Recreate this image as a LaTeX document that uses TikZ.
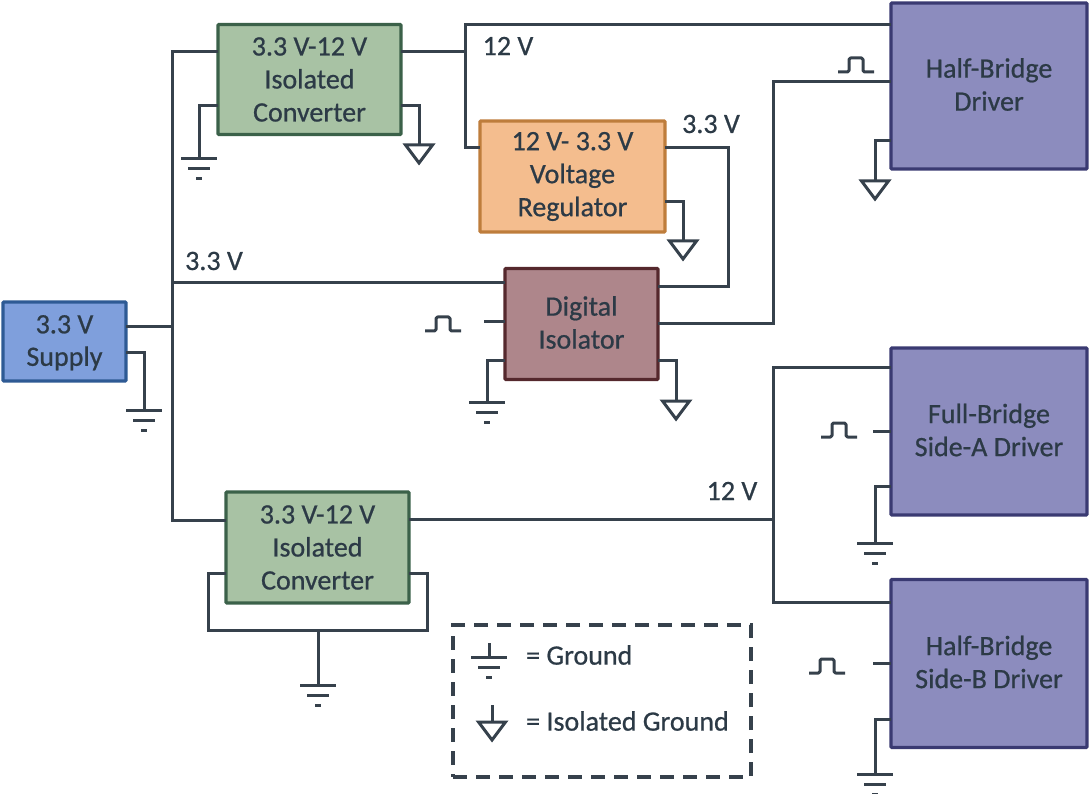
\documentclass[tikz,border=0pt]{standalone}
\usepackage{fontspec}
\setmainfont{Carlito}[RawFeature={embolden=0.7}]
\definecolor{wire}{HTML}{36414C}
\definecolor{txt}{HTML}{2C3A46}
\definecolor{convF}{HTML}{A8C2A4}\definecolor{convD}{HTML}{3B6149}
\definecolor{regF}{HTML}{F4BD8E}\definecolor{regD}{HTML}{BE7D3C}
\definecolor{isoF}{HTML}{AE868B}\definecolor{isoD}{HTML}{55282D}
\definecolor{supF}{HTML}{7F9FDC}\definecolor{supD}{HTML}{2E5A94}
\definecolor{drvF}{HTML}{8C8CBE}\definecolor{drvD}{HTML}{3A3A72}
\newcommand{\upline}[1]{\raisebox{1.5pt}[\height][\depth]{#1}}
\tikzset{
  lbl/.style={text=txt,font=\fontsize{28}{33}\selectfont,inner sep=0pt,align=center},
  box/.style={lbl,draw=#1,line width=3.4pt,inner sep=0pt,outer sep=0pt,rounded corners=1pt},
  wireline/.style={draw=wire,line width=3pt,line join=miter},
  gndsym/.pic={
    \draw[wire,line width=3pt] (-18,0)--(18,0) (-11,10)--(11,10) (-3,20)--(3,20);
  },
  isosym/.pic={
    \draw[wire,line width=3pt,line join=miter] (-13.5,0)--(13.5,0)--(0,18)--cycle;
  },
  pulsesym/.pic={
    \draw[wire,line width=3pt,line join=round,rounded corners=1.5pt] (0,14)--(11,14)--(11,0)--(25,0)--(25,14)--(36,14);
  },
  sizebox/.style n args={2}{minimum width=#1,minimum height=#2},
}
\begin{document}
\begin{tikzpicture}[x=1pt,y=-1pt]
\useasboundingbox (0,0) rectangle (1090,794);
% blocks
\node[box=convD,fill=convF,sizebox={183pt}{110pt}] (conv1) at (309.5,79.5) {3.3 V-12 V\\Isolated\\Converter};
\node[box=regD,fill=regF,sizebox={185pt}{111pt}] (reg) at (572.5,176.5) {12 V- 3.3 V\\Voltage\\Regulator};
\node[box=isoD,fill=isoF,sizebox={153pt}{111pt}] (iso) at (581.5,324) {\upline{Digital}\\\upline{Isolator}};
\node[box=supD,fill=supF,sizebox={123pt}{79pt}] (sup) at (64.5,341.5) {\raisebox{-1.5pt}[\height][\depth]{3.3 V}\\\raisebox{-1pt}[\height][\depth]{Supply}};
\node[box=convD,fill=convF,sizebox={183pt}{111pt}] (conv2) at (317.5,547.5) {3.3 V-12 V\\Isolated\\Converter};
\node[box=drvD,fill=drvF,sizebox={196pt}{166pt}] (hb) at (989,86) {\upline{Half-Bridge}\\\upline{Driver}};
\node[box=drvD,fill=drvF,sizebox={196pt}{167pt}] (fb) at (989,431.5) {\upline{Full-Bridge}\\\upline{Side-A Driver}};
\node[box=drvD,fill=drvF,sizebox={196pt}{168pt}] (hbb) at (989,663.5) {\upline{Half-Bridge}\\\upline{Side-B Driver}};
% legend
\node[draw=wire,line width=3.4pt,dash pattern=on 14pt off 9pt,minimum width=298pt,minimum height=152pt,inner sep=0pt] (legend) at (602,701) {};
\node[lbl,anchor=west] (lg) at (526,655) {= Ground};
\node[lbl,anchor=west] (li) at (526,721) {= Isolated Ground};
% labels
\node[lbl] (v12a) at (508,46) {12 V};
\node[lbl] (v33a) at (711,124) {3.3 V};
\node[lbl] (v33b) at (214,261) {3.3 V};
\node[lbl] (v12b) at (732,491) {12 V};
% junctions
\coordinate (busT) at (172,52);
\coordinate (busB) at (172,520);
\coordinate (jA) at (465,52);
\coordinate (jB) at (773,519);
% power wires
\draw[wireline] (conv1.west |- busT) -- (busT) -- (busB) -- (conv2.west |- busB);
\draw[wireline] (sup.east |- 0,327) -- (busT |- 0,327);
\draw[wireline] (busT |- 0,283) -- (iso.west |- 0,283);
\draw[wireline] (conv1.east |- jA) -- (jA);
\draw[wireline] (hb.west |- 0,25) -- (jA |- 0,25) -- (jA |- 0,148) -- (reg.west |- 0,148);
\draw[wireline] (reg.east |- 0,148) -- (728,148) -- (728,287) -- (iso.east |- 0,287);
\draw[wireline] (iso.east |- 0,324) -- (773,324) -- (773,82) -- (hb.west |- 0,82);
\draw[wireline] (conv2.east |- jB) -- (jB);
\draw[wireline] (fb.west |- 0,368) -- (jB |- 0,368) -- (jB |- 0,602) -- (hbb.west |- 0,602);
% ground stems and symbols
\coordinate (g1) at (199,159); \pic at (g1) {gndsym};
\draw[wireline] (conv1.west |- 0,106) -- (g1 |- 0,106) -- (g1);
\coordinate (i1) at (419,145); \pic at (i1) {isosym};
\draw[wireline] (conv1.east |- 0,106) -- (i1 |- 0,106) -- (i1);
\coordinate (i2) at (683,241); \pic at (i2) {isosym};
\draw[wireline] (reg.east |- 0,202) -- (i2 |- 0,202) -- (i2);
\coordinate (g2) at (144,410); \pic at (g2) {gndsym};
\draw[wireline] (sup.east |- 0,353) -- (g2 |- 0,353) -- (g2);
\coordinate (g3) at (487,402); \pic at (g3) {gndsym};
\draw[wireline] (iso.west |- 0,361) -- (g3 |- 0,361) -- (g3);
\coordinate (i3) at (676,401); \pic at (i3) {isosym};
\draw[wireline] (iso.east |- 0,361) -- (i3 |- 0,361) -- (i3);
\coordinate (i4) at (875,181); \pic at (i4) {isosym};
\draw[wireline] (hb.west |- 0,141) -- (i4 |- 0,141) -- (i4);
\coordinate (g4) at (875,543); \pic at (g4) {gndsym};
\draw[wireline] (fb.west |- 0,486) -- (g4 |- 0,486) -- (g4);
\coordinate (g5) at (875,774); \pic at (g5) {gndsym};
\draw[wireline] (hbb.west |- 0,719) -- (g5 |- 0,719) -- (g5);
\coordinate (g6) at (318,685); \pic at (g6) {gndsym};
\draw[wireline] (conv2.west |- 0,573) -- (208,573) -- (208,630) -- (427,630) -- (427,573) -- (conv2.east |- 0,573);
\draw[wireline] (g6 |- 0,630) -- (g6);
% signal inputs
\coordinate (t1) at (484,322); \pic at (425,317) {pulsesym};
\draw[wireline] (t1) -- (iso.west |- t1);
\coordinate (t2) at (873,431); \pic at (821,423) {pulsesym};
\draw[wireline] (t2) -- (fb.west |- t2);
\coordinate (t3) at (873,663); \pic at (809,659) {pulsesym};
\draw[wireline] (t3) -- (hbb.west |- t3);
\pic at (838,58) {pulsesym};
% legend symbols
\coordinate (lg1) at (489,657); \pic at (lg1) {gndsym};
\draw[wireline] (489,643) -- (lg1);
\coordinate (li1) at (492,722); \pic at (li1) {isosym};
\draw[wireline] (492,705) -- (li1);
\end{tikzpicture}
\end{document}
